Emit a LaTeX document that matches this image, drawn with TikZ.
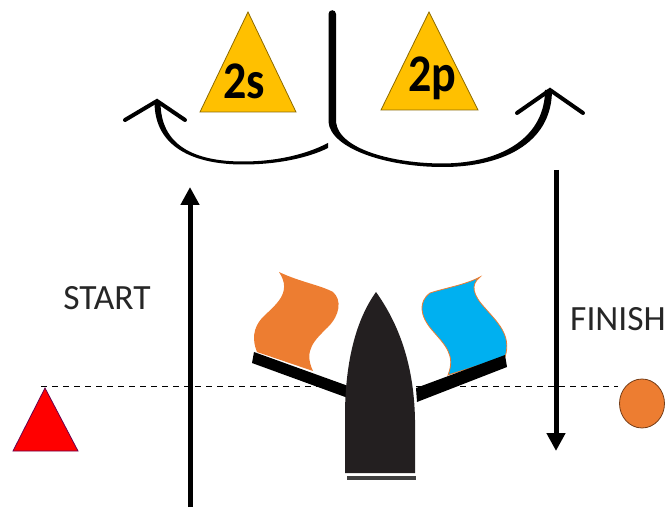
\documentclass[tikz,border=0pt]{standalone}
\usepackage{fontspec}
\setmainfont{Carlito}
\usetikzlibrary{arrows.meta}
\definecolor{mark}{HTML}{FFC000}
\definecolor{orangeflag}{HTML}{ED7D31}
\definecolor{blueflag}{HTML}{00B0F0}
\definecolor{hull}{HTML}{231F20}
\tikzset{
  marktri/.style={fill=mark,draw=black!45!mark,line width=0.8pt,line join=miter},
  marklabel/.style={font=\bfseries\fontsize{46}{46}\selectfont,inner sep=0pt,text=black,yscale=1.15},
  plainlabel/.style={font=\fontsize{35.5}{36}\selectfont,inner sep=0pt,text=black!85},
  leg/.style={line width=5pt,draw=black,-{Triangle[width=18pt,length=18pt]}},
  chevron/.style={draw=black,line width=4pt,line cap=round,line join=miter},
  bar/.style={fill=black},
  dashline/.style={draw=black,line width=1.4pt,dash pattern=on 6pt off 5pt},
}
\begin{document}
\begin{tikzpicture}[x=1pt,y=-1pt]
\useasboundingbox (0,0) rectangle (669,510);
% layline
\coordinate (dl) at (41,386.5);
\coordinate (dm) at (347,386.5);
\coordinate (dn) at (416,386.5);
\coordinate (dr) at (618,386.5);
\draw[dashline] (dl) -- (dm);
\draw[dashline] (dn) -- (dr);
% flags
\fill[orangeflag] (279,272) .. controls (300,282) and (320,285) .. (333,292)
  .. controls (342,300) and (340,315) .. (328,327)
  .. controls (315,340) and (303,350) .. (313,371) -- (257,352)
  .. controls (252,340) and (253,328) .. (262,318)
  .. controls (275,305) and (293,293) .. (279,272) -- cycle;
\draw[fill=blueflag,draw=orangeflag,line width=0.8pt] (480,277)
  .. controls (470,285) and (473,295) .. (485,308)
  .. controls (497,322) and (512,335) .. (505,357)
  -- (448,375)
  .. controls (456,355) and (445,345) .. (432,330)
  .. controls (420,316) and (418,302) .. (430,293)
  .. controls (445,288) and (465,285) .. (480,277) -- cycle;
% arms
\fill[bar] (254,352) -- (351,387) -- (348,398) -- (252,363) -- cycle;
\fill[bar] (505,355) -- (507,367) -- (417,402) -- (416,388) -- cycle;
% hull
\fill[hull] (345,473) -- (345,410) .. controls (346,360) and (356,320) .. (376,292)
  .. controls (396,320) and (414,360) .. (415,420) -- (415,473) -- cycle;
\fill[black!75] (347,475.5) rectangle (416,479.5);
% start and finish marks
\draw[fill=red,draw=black!40!red!70!blue,line width=0.8pt] (45,388) -- (78,451) -- (13,451) -- cycle;
\draw[fill=orangeflag,draw=black!50!orangeflag,line width=0.8pt] (642,403.5) ellipse (22.5 and 24.5);
% legs
\coordinate (upS) at (190,507);
\coordinate (upE) at (190,187);
\coordinate (dnS) at (556,170);
\coordinate (dnE) at (556,451);
\draw[leg] (upS) -- (upE);
\draw[leg] (dnS) -- (dnE);
% rounding marks
\draw[marktri] (248,12) -- (296,112) -- (200,112) -- cycle;
\draw[marktri] (429,12) -- (478,110) -- (381,110) -- cycle;
\node[marklabel] (s2) at (244,81) {2s};
\node[marklabel] (p2) at (432,78) {2p};
% turn arrows
\fill[black] (328.5,14) .. controls (328.5,9) and (336,9) .. (336,14) -- (336,122)
  .. controls (339,150) and (395,163.5) .. (443,163.5)
  .. controls (505,163) and (545,135) .. (545,90) -- (552,90)
  .. controls (552,145) and (500,167) .. (443,167)
  .. controls (385,167) and (330.5,148) .. (328.5,122) -- cycle;
\draw[chevron] (517,113) -- (550,90) -- (583,113);
\fill[black] (328,143) .. controls (305,155) and (275,161.5) .. (243,161.5)
  .. controls (195,161.5) and (160.5,146) .. (160.5,102) -- (154.5,102)
  .. controls (154.5,148) and (195,164.5) .. (243,164.5)
  .. controls (280,164.5) and (310,157) .. (328,148) -- cycle;
\draw[chevron] (125,120) -- (157,101) -- (185,120);
% labels
\node[plainlabel] (st) at (107,298) {START};
\node[plainlabel] (fi) at (618,319) {FINISH};
\end{tikzpicture}
\end{document}
